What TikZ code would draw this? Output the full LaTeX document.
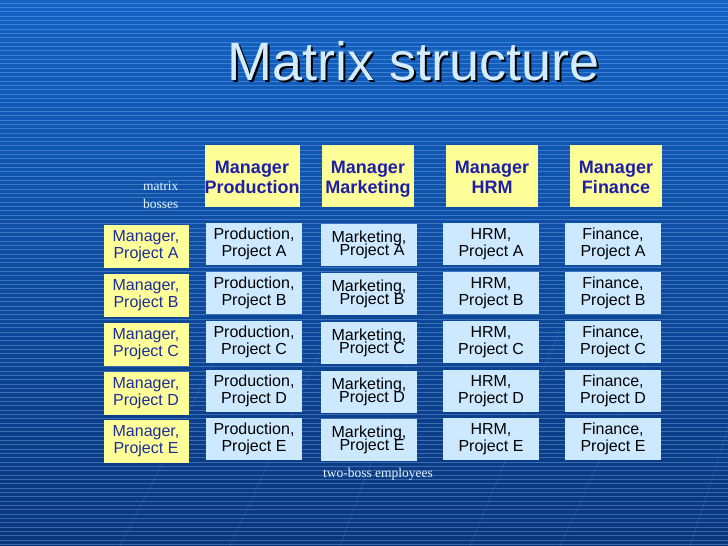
\documentclass[tikz,border=0pt]{standalone}
\usepackage{fontspec}
\setmainfont{Liberation Serif}
\newfontfamily\arial{Liberation Sans}
\newcommand\mktfont{\arial\fontsize{16}{12.5}\selectfont\lineskiplimit=-30pt\relax}
\newcommand\hdrtop{\rule{0pt}{20pt}}
\definecolor{bgtop}{HTML}{1262C4}
\definecolor{bgbot}{HTML}{0A357A}
\definecolor{stripe}{HTML}{7FB2F0}
\definecolor{yel}{HTML}{FFFF99}
\definecolor{cellblue}{HTML}{CDE9FF}
\definecolor{hdrtext}{HTML}{1E1EA8}
\definecolor{mgrtext}{HTML}{1C2C9C}
\definecolor{titlecol}{HTML}{D4ECFF}
\begin{document}
\begin{tikzpicture}[x=1pt,y=-1pt,
  cellbox/.style={fill=cellblue, minimum width=96pt, minimum height=42pt, inner sep=0pt, align=center,
    font=\arial\fontsize{16}{17}\selectfont, text=black},
  mktbox/.style={cellbox, font=\mktfont},
  hdrbox/.style={fill=yel, minimum width=92pt, minimum height=62pt, inner sep=0pt, align=center,
    font=\arial\bfseries\fontsize{18}{20}\selectfont, text=hdrtext},
  mgrbox/.style={fill=yel, minimum width=85pt, minimum height=43pt, inner sep=0pt, align=center,
    font=\arial\fontsize{16}{17}\selectfont, text=mgrtext},
  note/.style={font=\fontsize{13.5}{18}\selectfont, text=white!88!cyan, inner sep=0pt, align=left}]
\path[use as bounding box] (0,0) rectangle (728,546);
\shade[top color=bgtop, bottom color=bgbot] (0,0) rectangle (728,546);
\foreach \i in {0,...,125} {
  \draw[stripe, opacity=0.4, line width=0.8pt] (0,{3+4.33*\i}) -- (728,{3+4.33*\i});
}
\foreach \a/\b in {120/230, 230/330, 340/420, 470/560, 560/660, 690/760, 760/840} {
  \draw[stripe, opacity=0.18, line width=0.6pt] (\a,546) -- (\b,330);
}
% title with shadow
\node[font=\arial\fontsize{54}{60}\selectfont, text=titlecol] (title) at (414,62)
  {\rlap{\hspace*{2pt}\raisebox{-2pt}{\color{black}Matrix structure}}Matrix structure};
% headers
\node[hdrbox] (hP) at (252,176) {\hdrtop Manager\\Production\strut};
\node[hdrbox] (hM) at (368,176) {\hdrtop Manager\\Marketing\strut};
\node[hdrbox] (hH) at (492,176) {\hdrtop Manager\\HRM\strut};
\node[hdrbox] (hF) at (616,176) {\hdrtop Manager\\Finance\strut};
\node[note, anchor=west] (mb) at (143,195) {matrix\\bosses};
% rows
\foreach \r/\y in {A/244, B/293, C/342, D/391, E/439} {
  \node[mgrbox] (m\r) at (146,{\y+2}) {Manager,\\Project \r};
  \node[cellbox] (p\r) at (254,\y) {Production,\\Project \r};
  \node[mktbox] (k\r) at (369,{\y+1}) {Marketing,\\\hspace*{6pt}Project \r};
  \node[cellbox] (h\r) at (491,\y) {HRM,\\Project \r};
  \node[cellbox] (f\r) at (613,\y) {Finance,\\Project \r};
}
\node[note, anchor=center] (tb) at (378,474) {two-boss employees};
\end{tikzpicture}
\end{document}
